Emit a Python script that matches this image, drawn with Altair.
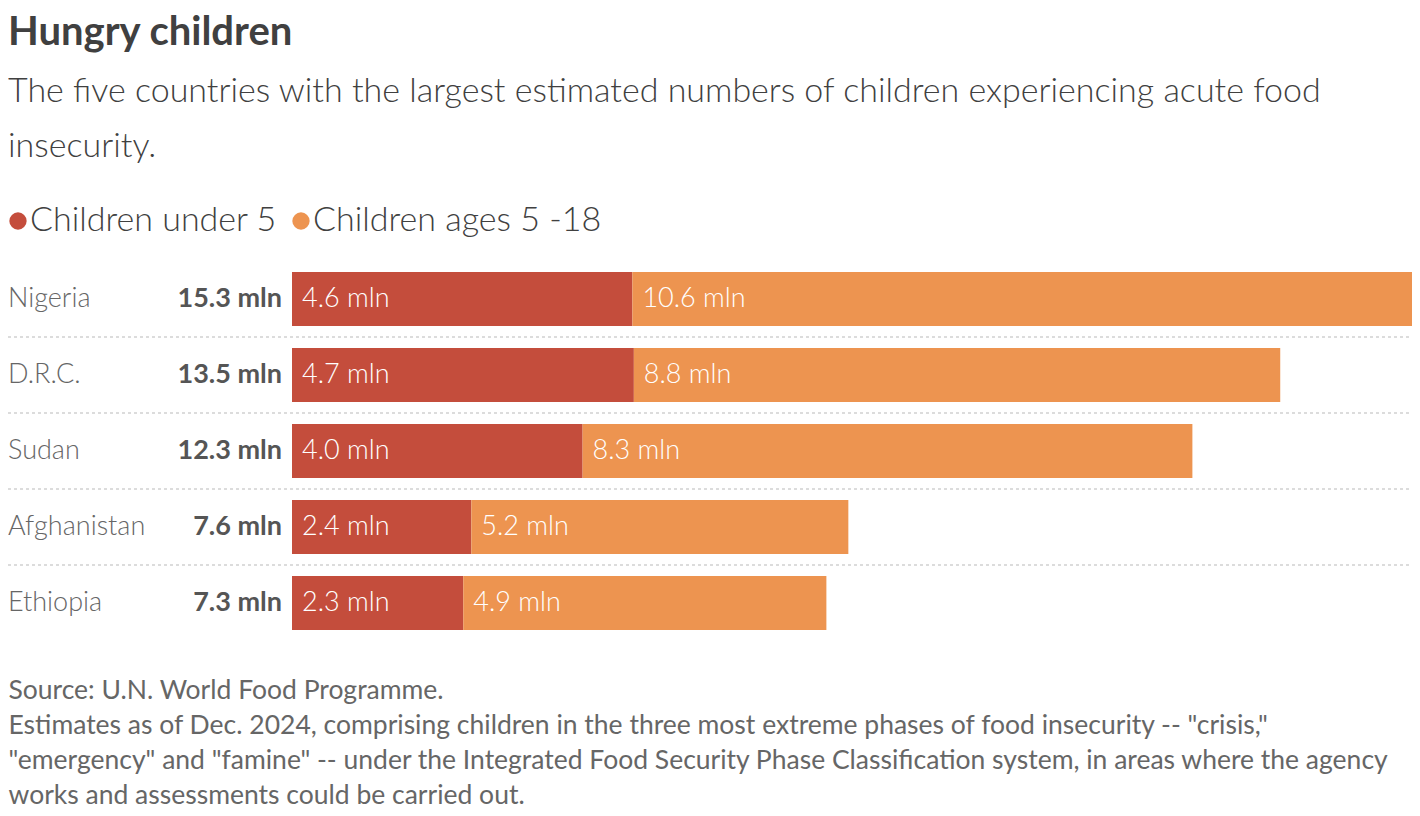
import altair as alt
import pandas as pd

countries = ["Nigeria", "D.R.C.", "Sudan", "Afghanistan", "Ethiopia"]
under5 = [4.65, 4.67, 3.97, 2.45, 2.34]
ages5_18 = [10.65, 8.83, 8.33, 5.15, 4.96]
under5_labels = ["4.6 mln", "4.7 mln", "4.0 mln", "2.4 mln", "2.3 mln"]
ages5_18_labels = ["10.6 mln", "8.8 mln", "8.3 mln", "5.2 mln", "4.9 mln"]
total_labels = ["15.3 mln", "13.5 mln", "12.3 mln", "7.6 mln", "7.3 mln"]
groups = ["Children under 5", "Children ages 5 -18"]
colors = ["#C44D3C", "#ED9450"]

title_text = "Hungry children"
subtitle_lines = [
    "The five countries with the largest estimated numbers of children experiencing acute food",
    "insecurity.",
]
footnote_lines = [
    "Source: U.N. World Food Programme.",
    "Estimates as of Dec. 2024, comprising children in the three most extreme phases of food insecurity -- \"crisis,\"",
    "\"emergency\" and \"famine\" -- under the Integrated Food Security Phase Classification system, in areas where the agency",
    "works and assessments could be carried out.",
]

FONT = "Lato"

rows = []
for i, c in enumerate(countries):
    rows.append(dict(country=c, group=groups[0], order=0, start=0.0,
                     end=under5[i], label=under5_labels[i], total=total_labels[i], idx=i))
    rows.append(dict(country=c, group=groups[1], order=1, start=under5[i],
                     end=under5[i] + ages5_18[i], label=ages5_18_labels[i], total=total_labels[i], idx=i))
df = pd.DataFrame(rows)
df_c = pd.DataFrame(dict(country=countries, total=total_labels, idx=list(range(len(countries)))))

W = 1404
H = 380

xscale = alt.Scale(domain=[0, 15.3], range=[284, 1404], nice=False, zero=True)
yscale = alt.Scale(domain=countries, paddingInner=22 / 76, paddingOuter=11 / 76)

y_enc = alt.Y("country:N", scale=yscale, axis=None, sort=countries)

bars = alt.Chart(df).mark_bar().encode(
    x=alt.X("start:Q", scale=xscale,
            axis=alt.Axis(labels=False, ticks=False, domain=False, grid=False,
                          title=footnote_lines, titleX=0, titleY=36, titleAlign="left",
                          titleAnchor="start", titleBaseline="top",
                          titleFont=FONT, titleFontSize=26.5, titleFontWeight="normal",
                          titleColor="#666666", titleLineHeight=35)),
    x2="end:Q",
    y=y_enc,
    color=alt.Color("group:N", scale=alt.Scale(domain=groups, range=colors),
                    legend=alt.Legend(title=None, orient="none", legendX=0, legendY=-57,
                                      direction="horizontal", symbolType="circle",
                                      symbolSize=300, symbolStrokeWidth=0, symbolOpacity=1,
                                      symbolOffset=-7,
                                      labelFont=FONT, labelFontSize=34, labelFontWeight=300,
                                      labelColor="#404040", labelOffset={"expr": "-5"},
                                      columnPadding=13, padding=0, labelLimit=0)),
)

seg_labels = alt.Chart(df).mark_text(align="left", baseline="middle", dx=10, font=FONT,
                                     fontSize=27, fontWeight=300, color="white").encode(
    x=alt.X("start:Q", scale=xscale),
    y=y_enc,
    text="label:N",
)

country_labels = alt.Chart(df_c).mark_text(align="left", baseline="middle", font=FONT,
                                           fontSize=27, fontWeight=300, color="#666666").encode(
    x=alt.value(0),
    y=y_enc,
    text="country:N",
)

total_text = alt.Chart(df_c).mark_text(align="right", baseline="middle", font=FONT,
                                       fontSize=27, fontWeight="bold", color="#555555").encode(
    x=alt.value(274),
    y=y_enc,
    text="total:N",
)

rules = alt.Chart(df_c).transform_filter(alt.datum.idx < len(countries) - 1).mark_rule(
    yOffset=11, color="#dcdcdc", strokeWidth=2, strokeDash=[3, 3]).encode(
    x=alt.value(0),
    x2=alt.value(W),
    y=alt.Y("country:N", scale=yscale, axis=None, sort=countries, bandPosition=1),
)

chart = alt.layer(rules, bars, seg_labels, country_labels, total_text).properties(
    width=W,
    height=H,
    autosize=alt.AutoSizeParams(type="none"),
    padding={"left": 0, "right": 0, "top": 253, "bottom": 174},
    title=alt.TitleParams(
        text=title_text,
        subtitle=subtitle_lines,
        anchor="start",
        frame="group",
        font=FONT,
        fontSize=40,
        fontWeight="bold",
        color="#404040",
        subtitleFont=FONT,
        subtitleFontSize=34,
        subtitleFontWeight=300,
        subtitleColor="#404040",
        subtitleLineHeight=55,
        subtitlePadding=22,
        offset=40,
    ),
).configure_view(stroke=None)

chart.save("out.html", embed_options={"renderer": "svg", "actions": False})
